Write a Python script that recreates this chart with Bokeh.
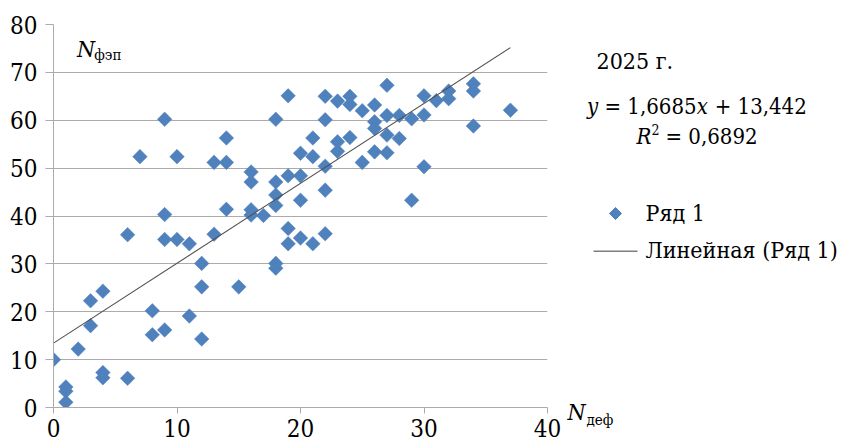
import math
from bokeh.plotting import figure
from bokeh.models import Range1d, FixedTicker
from bokeh.layouts import row
from bokeh.core.properties import value
from bokeh.embed import file_html
from bokeh.resources import INLINE

# ---- data ----
x_def = [0,
         1, 1, 1,
         2,
         3, 3,
         4, 4, 4,
         6, 6,
         7,
         8, 8,
         9, 9, 9, 9,
         10, 10,
         11, 11,
         12, 12, 12,
         13, 13,
         14, 14, 14,
         15,
         16, 16, 16, 16,
         17,
         18, 18, 18, 18, 18, 18,
         19, 19, 19, 19,
         20, 20, 20, 20,
         21, 21, 21,
         22, 22, 22, 22, 22,
         23, 23, 23,
         24, 24, 24,
         25, 25,
         26, 26, 26, 26,
         27, 27, 27, 27,
         28, 28,
         29, 29,
         30, 30, 30,
         31,
         32, 32,
         34, 34, 34,
         37]
y_fep = [10.0,
         4.3, 3.4, 1.1,
         12.2,
         22.3, 17.1,
         24.3, 7.3, 6.2,
         36.1, 6.1,
         52.4,
         20.2, 15.2,
         60.2, 40.3, 35.1, 16.2,
         52.4, 35.1,
         34.2, 19.1,
         30.1, 25.2, 14.3,
         51.2, 36.2,
         56.3, 51.2, 41.4,
         25.2,
         49.2, 47.1, 41.3, 40.2,
         40.1,
         60.2, 47.1, 44.4, 42.2, 30.1, 29.1,
         65.1, 48.4, 37.4, 34.2,
         53.1, 48.4, 43.3, 35.4,
         56.3, 52.4, 34.2,
         65.0, 60.1, 50.4, 45.4, 36.3,
         64.0, 55.5, 53.5,
         65.0, 63.3, 56.4,
         62.0, 51.2,
         63.2, 59.7, 58.3, 53.4,
         67.3, 61.0, 56.9, 53.2,
         61.0, 56.2,
         60.3, 43.3,
         65.1, 61.1, 50.3,
         64.1,
         66.1, 64.5,
         67.6, 66.1, 58.8,
         62.1]
x_ticks = [0, 10, 20, 30, 40]
y_ticks = [0, 10, 20, 30, 40, 50, 60, 70, 80]
trend_slope = 1.6685
trend_intercept = 13.442
trend_x = [0, 37]
trend_y = [trend_intercept + trend_slope * v for v in trend_x]

year_label = "2025 г."
series_label = "Ряд 1"
trend_label = "Линейная (Ряд 1)"

FONT = "DejaVu Serif Condensed"
BLUE = "#4F81BD"
GRID = "#ababab"

# ---- main chart ----
p = figure(width=564, height=445, x_range=Range1d(0, 40), y_range=Range1d(0, 80),
           output_backend="svg", toolbar_location=None,
           min_border_left=53, min_border_right=17, min_border_top=24, min_border_bottom=38)
p.frame_align = False
p.outline_line_color = None
p.xgrid.visible = False
p.ygrid.grid_line_color = GRID
p.ygrid.ticker = FixedTicker(ticks=y_ticks)
p.xaxis.ticker = FixedTicker(ticks=x_ticks)
p.yaxis.ticker = FixedTicker(ticks=y_ticks)
for ax in (p.xaxis[0], p.yaxis[0]):
    ax.axis_line_color = GRID
    ax.major_tick_line_color = GRID
    ax.minor_tick_line_color = None
    ax.major_tick_in = 0
    ax.major_label_text_font = FONT
    ax.major_label_text_font_size = "24px"
    ax.major_label_text_color = "black"
p.xaxis.major_tick_out = 6
p.xaxis.major_label_standoff = 5
p.yaxis.major_tick_out = 8
p.yaxis.major_label_standoff = 8

p.scatter(x_def, y_fep, marker="square", angle=math.pi / 4, size=10.3,
          fill_color=BLUE, line_color=BLUE, line_width=0.5)
p.line(trend_x, trend_y, line_color="#505050", line_width=1.1)

# y-axis title inside plot: N_фэп
p.text(x=[1.9], y=[74.9], text=["N"], text_font=value(FONT), text_font_style="italic",
       text_font_size="23px", text_baseline="alphabetic", text_align="left", text_color="black")
p.text(x=[3.3], y=[73.6], text=["фэп"], text_font=value(FONT),
       text_font_size="15px", text_baseline="alphabetic", text_align="left", text_color="black")

# ---- right panel: x title, equation, legend ----
q = figure(width=278, height=445, x_range=Range1d(0, 278), y_range=Range1d(445, 0),
           x_axis_type=None, y_axis_type=None, output_backend="svg",
           toolbar_location=None, min_border=0)
q.frame_align = False
q.outline_line_color = None

def txt(x, y, s, size, italic=False, align="left"):
    q.text(x=[x], y=[y], text=[s], text_font=value(FONT),
           text_font_style="italic" if italic else "normal",
           text_font_size=size, text_baseline="alphabetic", text_align=align,
           text_color="black")

# N_деф
txt(3, 411, "N", "23px", True)
txt(22, 419, "деф", "15px")
# year
txt(32, 60, year_label, "23px")
# equation
txt(33.7, 106, "y", "22px", True, "right")
txt(40, 106, "= 1,6685", "22px")
txt(132.2, 106, "x", "22px", True)
txt(150.2, 106, "+ 13,442", "22px")
txt(87, 136, "R", "22px", True, "right")
txt(87, 129, "2", "14px")
txt(101, 136, "= 0,6892", "22px")
# legend
q.scatter([51], [213], marker="square", angle=math.pi / 4, size=8.5,
          fill_color=BLUE, line_color=BLUE)
txt(81, 212, series_label, "23px")
q.line([29, 73], [250.7, 250.7], line_color="#7f7f7f", line_width=1.5)
txt(81, 249, trend_label, "23px")

layout = row(p, q)
open("out.html", "w").write(file_html(layout, INLINE))
